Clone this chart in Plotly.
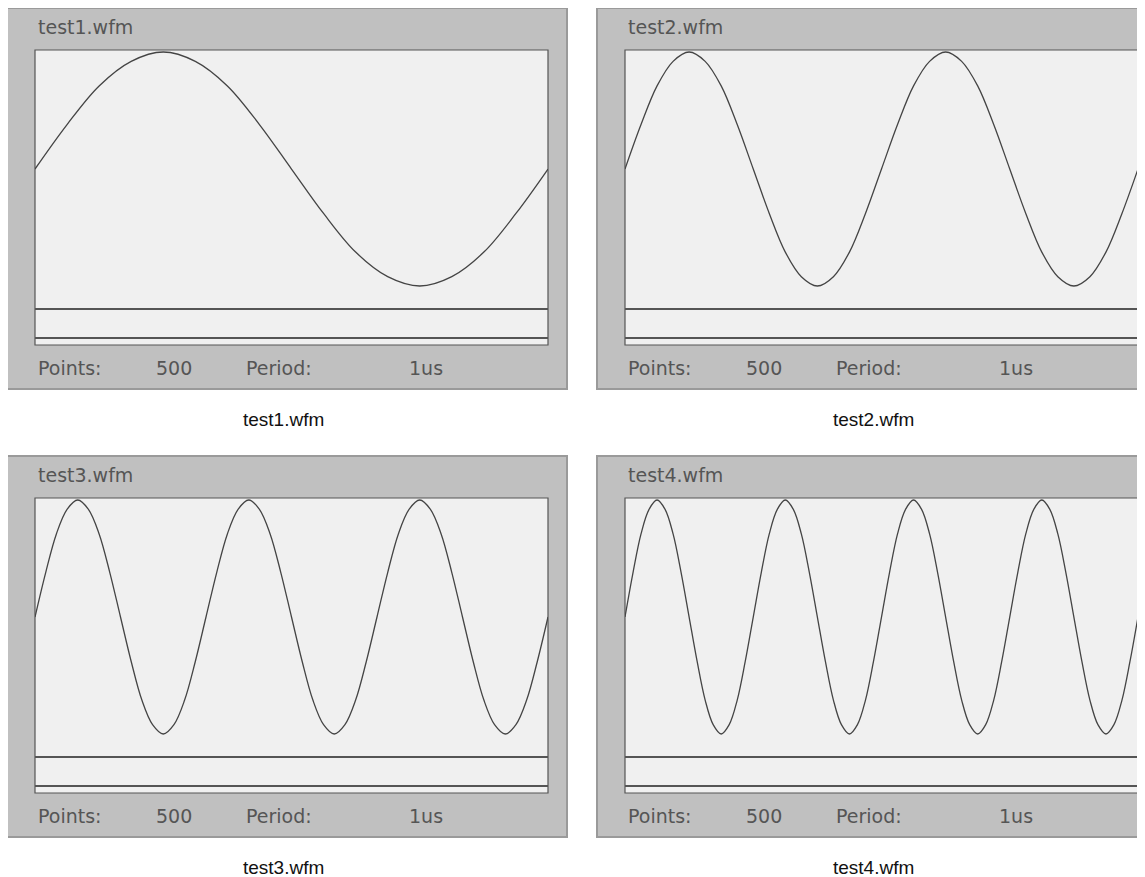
import numpy as np
import plotly.graph_objects as go

# page has an 8px body margin, so the figure is a bit smaller than the window
OFF = 8
W, H = 1145 - OFF, 877 - OFF

# waveform files and their settings
file_names = ["test1.wfm", "test2.wfm", "test3.wfm", "test4.wfm"]
num_points = [500, 500, 500, 500]
periods = ["1us", "1us", "1us", "1us"]

# waveform levels (normalised, 16 samples per cycle)
cycle = [0, 0.38, 0.71, 0.92, 1, 0.92, 0.71, 0.38,
         0, -0.38, -0.71, -0.92, -1, -0.92, -0.71, -0.38]
wave1 = cycle + [0]
wave2 = cycle + cycle + [0]
wave3 = cycle + cycle + cycle + [0]
wave4 = cycle + cycle + cycle + cycle + [0]
waves = [wave1, wave2, wave3, wave4]

# panel origins in screen pixels (top-left of grey window)
origins = [(7, 8), (597, 8), (7, 456), (597, 456)]


def px(x):
    return (x - OFF) / W


def py(y):
    return 1 - (y - OFF) / H


fig = go.Figure()
shapes = []
annotations = []
label_font = dict(family="DejaVu Sans", size=19, color="#555555")

for i, (ox, oy) in enumerate(origins):
    n = i + 1
    # grey window
    shapes.append(dict(type="rect", xref="paper", yref="paper", layer="below",
                       x0=px(ox), x1=px(ox + 560), y0=py(oy + 381), y1=py(oy),
                       fillcolor="#c0c0c0", line=dict(color="#9a9a9a", width=2)))
    # plot area
    left, right, top, bottom = ox + 28, ox + 541, oy + 42, oy + 337
    shapes.append(dict(type="rect", xref="paper", yref="paper", layer="below",
                       x0=px(left), x1=px(right), y0=py(bottom), y1=py(top),
                       fillcolor="#f0f0f0", line=dict(color="#555555", width=1.2)))
    # marker lines
    for yy in (oy + 301, oy + 330):
        shapes.append(dict(type="line", xref="paper", yref="paper",
                           x0=px(left), x1=px(right), y0=py(yy), y1=py(yy),
                           line=dict(color="#555555", width=2)))

    xa = "xaxis" if n == 1 else f"xaxis{n}"
    ya = "yaxis" if n == 1 else f"yaxis{n}"
    vals = waves[i]
    xs = np.linspace(0, num_points[i], len(vals))
    fig.add_trace(go.Scatter(x=xs, y=vals, mode="lines", line_shape="spline",
                             line=dict(color="#444444", width=1.3),
                             xaxis="x" if n == 1 else f"x{n}",
                             yaxis="y" if n == 1 else f"y{n}",
                             showlegend=False, hoverinfo="skip"))
    fig.layout[xa] = dict(domain=[px(left), px(right)], range=[0, num_points[i]],
                          visible=False, anchor="y" if n == 1 else f"y{n}")
    fig.layout[ya] = dict(domain=[py(bottom), py(top)], range=[-1.504, 1.017],
                          visible=False, anchor="x" if n == 1 else f"x{n}")

    # window texts
    annotations.append(dict(text=file_names[i], x=px(ox + 29), y=py(oy + 19),
                            xref="paper", yref="paper", xanchor="left", yanchor="middle",
                            showarrow=False, font=label_font))
    for txt, xx in (("Points:", 29), (str(num_points[i]), 147),
                    ("Period:", 237), (periods[i], 400)):
        annotations.append(dict(text=txt, x=px(ox + xx), y=py(oy + 360),
                                xref="paper", yref="paper", xanchor="left",
                                yanchor="middle", showarrow=False, font=label_font))
    # caption under the window
    annotations.append(dict(text=file_names[i], x=px(ox + 276), y=py(oy + 411),
                            xref="paper", yref="paper", xanchor="center",
                            yanchor="middle", showarrow=False,
                            font=dict(family="Liberation Sans Narrow, Liberation Sans",
                                      size=19, color="#111111")))

fig.update_layout(width=W, height=H, margin=dict(l=0, r=0, t=0, b=0),
                  paper_bgcolor="white", plot_bgcolor="rgba(0,0,0,0)",
                  shapes=shapes, annotations=annotations)

fig.write_html("out.html")
